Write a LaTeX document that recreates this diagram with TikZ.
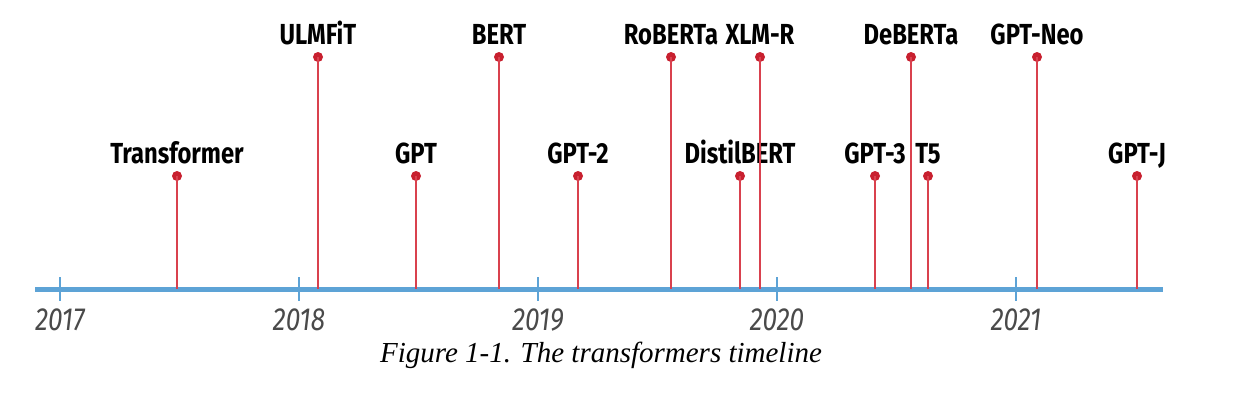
\documentclass[tikz,border=0pt]{standalone}
\usepackage{fontspec}
\setmainfont{Liberation Serif}
\newfontfamily\labfont[FakeStretch=0.82]{Fira Sans}
\definecolor{axisblue}{HTML}{5DA3D6}
\definecolor{stemred}{HTML}{D9414E}
\definecolor{dotred}{HTML}{C8202F}
\definecolor{yeargray}{HTML}{4A4A4A}
\begin{document}
\begin{tikzpicture}[x=1pt,y=-1pt,
  lab/.style={font=\labfont\fontsize{29}{29}\selectfont\bfseries, anchor=base, inner sep=0pt},
  yr/.style={font=\labfont\fontsize{32}{32}\selectfont\itshape, text=yeargray, anchor=base, inner sep=0pt},
  dotn/.style={circle, fill=dotred, minimum size=10pt, inner sep=0pt},
  stem/.style={draw=stemred, line width=2pt},
  tick/.style={draw=axisblue, line width=2pt}]
\useasboundingbox (0,0) rectangle (1252,397);
% axis
\coordinate (axL) at (35,289);
\coordinate (axR) at (1163,289);
\draw[axisblue, line width=5pt] (axL) -- (axR);
% ticks and years
\foreach \yy/\xx in {2017/60,2018/299,2019/538,2020/777,2021/1016}{
  \coordinate (t\yy a) at (\xx,277);
  \coordinate (t\yy b) at (\xx,301);
  \draw[tick] (t\yy a) -- (t\yy b);
  \node[yr] (y\yy) at (\xx,330) {\yy};
}
% events
\foreach \nm/\txt/\xx/\yy in {
  tr/Transformer/177/176,
  ul/ULMFiT/318/57,
  gp/GPT/416/176,
  be/BERT/499/57,
  gt/GPT-2/578/176,
  ro/RoBERTa/671/57,
  di/DistilBERT/740/176,
  xl/XLM-R/760/57,
  gh/GPT-3/875/176,
  de/DeBERTa/911/57,
  tf/T5/928/176,
  ne/GPT-Neo/1037/57,
  gj/GPT-J/1137/176}{
  \coordinate (b\nm) at (\xx,289);
  \node[dotn] (d\nm) at (\xx,\yy) {};
  \draw[stem] (d\nm.center) -- (b\nm);
  \node[lab] (l\nm) at (\xx,\yy-13) {\txt};
}
\node[font=\fontsize{29}{29}\selectfont\itshape, anchor=base, inner sep=0pt] (cap) at (601,362) {Figure 1-1. The transformers timeline};
\end{tikzpicture}
\end{document}
